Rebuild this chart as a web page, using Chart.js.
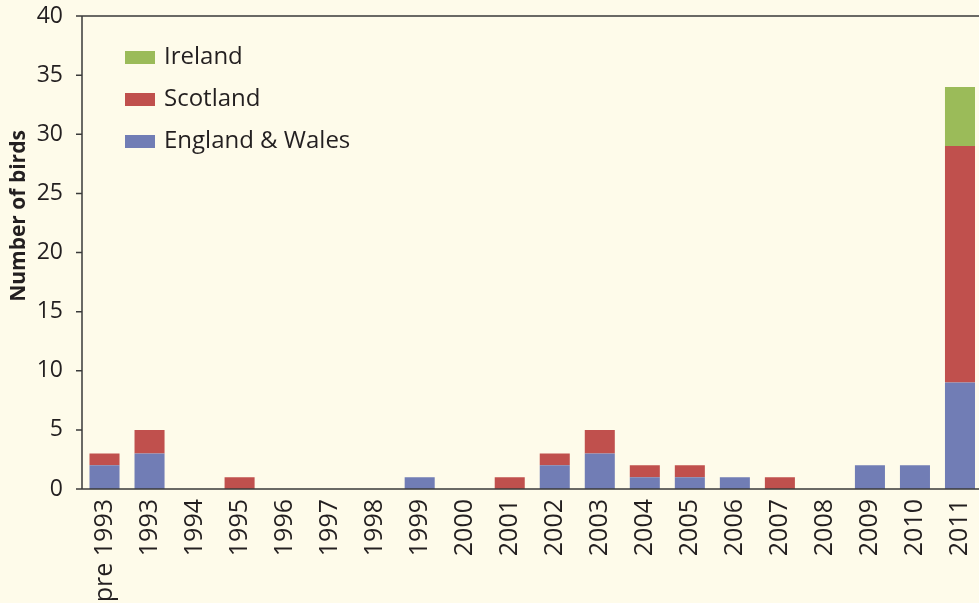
<!DOCTYPE html>
<html>
<head>
<meta charset="utf-8">
<script src="https://cdn.jsdelivr.net/npm/chart.js@4/dist/chart.umd.min.js"></script>
<style>
  html, body { margin: 0; padding: 0; background: #FEFBEA; overflow: hidden; }
  #wrap { width: 990px; height: 603px; }
</style>
</head>
<body>
<div id="wrap"><canvas id="chart"></canvas></div>
<script>
const categories = ['pre 1993', '1993', '1994', '1995', '1996', '1997', '1998', '1999', '2000',
  '2001', '2002', '2003', '2004', '2005', '2006', '2007', '2008', '2009', '2010', '2011'];
const englandWales = [2, 3, 0, 0, 0, 0, 0, 1, 0, 0, 2, 3, 1, 1, 1, 0, 0, 2, 2, 9];
const scotland     = [1, 2, 0, 1, 0, 0, 0, 0, 0, 1, 1, 2, 1, 1, 0, 1, 0, 0, 0, 20];
const ireland      = [0, 0, 0, 0, 0, 0, 0, 0, 0, 0, 0, 0, 0, 0, 0, 0, 0, 0, 0, 5];
const yTicks = [0, 5, 10, 15, 20, 25, 30, 35, 40];

const ink = '#231F20';
const font = '"Open Sans", "DejaVu Sans", sans-serif';

// axis frame, y tick marks, legend and y title
const decor = {
  id: 'decor',
  afterDraw(chart) {
    const c = chart.ctx;
    const area = chart.chartArea;
    const y = chart.scales.y;
    const axisX = area.left;
    c.save();
    c.strokeStyle = '#3a3a3a';
    c.lineWidth = 1.5;
    c.beginPath();
    c.moveTo(axisX, area.top);
    c.lineTo(axisX, area.bottom);
    c.moveTo(axisX, area.top);
    c.lineTo(chart.width, area.top);
    c.moveTo(axisX - 6, area.bottom);
    c.lineTo(chart.width, area.bottom);
    yTicks.forEach(v => {
      const py = y.getPixelForValue(v);
      c.moveTo(axisX - 6, py);
      c.lineTo(axisX, py);
    });
    c.stroke();

    // legend
    const items = chart.data.datasets.slice().reverse();
    c.font = '24px ' + font;
    c.textBaseline = 'middle';
    c.textAlign = 'left';
    items.forEach((ds, i) => {
      const cy = 57 + i * 42;
      c.fillStyle = ds.backgroundColor;
      c.fillRect(125, cy - 6, 30, 13);
      c.fillStyle = ink;
      c.fillText(ds.label, 164, cy);
    });

    // y title
    c.translate(19, 216);
    c.rotate(-Math.PI / 2);
    c.textAlign = 'center';
    c.font = 'bold 21px ' + font;
    c.fillStyle = ink;
    c.fillText('Number of birds', 0, 0);
    c.restore();
  }
};

new Chart(document.getElementById('chart'), {
  type: 'bar',
  data: {
    labels: categories,
    datasets: [
      { label: 'England & Wales', data: englandWales, backgroundColor: '#717DB5' },
      { label: 'Scotland', data: scotland, backgroundColor: '#C0504D' },
      { label: 'Ireland', data: ireland, backgroundColor: '#9BBB59' }
    ]
  },
  options: {
    responsive: true,
    maintainAspectRatio: false,
    animation: false,
    layout: { padding: { top: 16, right: 7.5, left: 0, bottom: 0 } },
    datasets: { bar: { barPercentage: 0.667, categoryPercentage: 1 } },
    plugins: { legend: { display: false }, tooltip: { enabled: false } },
    scales: {
      x: {
        stacked: true,
        grid: { display: false, drawTicks: false },
        border: { display: false },
        ticks: {
          autoSkip: false, minRotation: 90, maxRotation: 90, padding: 10,
          color: ink, font: { family: font, size: 25 }
        },
        afterFit(scale) {
          scale.height = 114;
          scale.paddingLeft = 0;
          scale.paddingRight = 0;
        }
      },
      y: {
        stacked: true,
        min: 0, max: 40,
        grid: { display: false, drawTicks: false },
        border: { display: false },
        afterBuildTicks(scale) { scale.ticks = yTicks.map(v => ({ value: v })); },
        ticks: { padding: 19, color: ink, font: { family: font, size: 23 } },
        afterFit(scale) {
          scale.width = 82;
          scale.paddingTop = 0;
          scale.paddingBottom = 0;
        }
      }
    }
  },
  plugins: [decor]
});
</script>
</body>
</html>
